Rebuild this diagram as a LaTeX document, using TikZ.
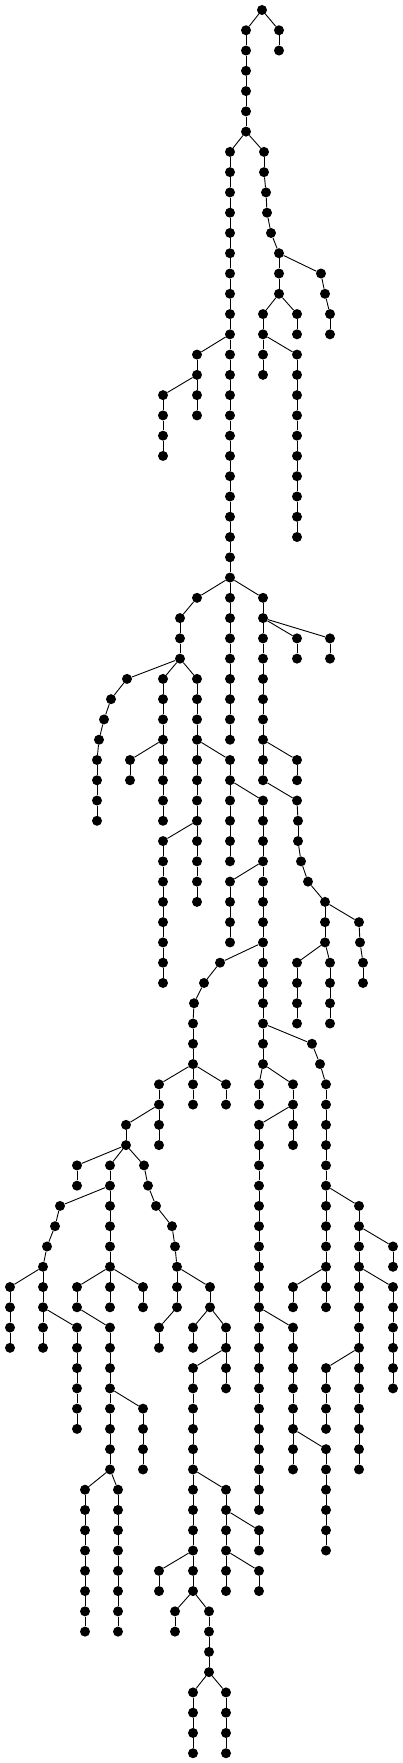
\documentclass[tikz,border=0pt]{standalone}
\usepackage{tikz}
\tikzset{vtx/.style={circle, fill=black, inner sep=0pt, minimum size=10pt},
  edge/.style={line width=0.9pt}}

\begin{document}
\begin{tikzpicture}[x=1pt, y=-1pt]
\useasboundingbox (0,0) rectangle (403,1763);

\foreach \x/\a/\b in {246/1/6, 279/1/2, 230/7/36, 264/7/8, 279/12/14, 263/15/18,
  297/15/16, 297/17/26, 330/15/16, 197/17/20, 163/19/22, 263/29/38, 180/30/32,
  297/31/32, 330/31/32, 163/33/40, 197/33/44, 130/37/38, 97/37/40, 230/37/42,
  297/37/38, 263/39/52, 298/40/41, 163/41/48, 230/43/46, 325/44/46, 297/47/50,
  330/47/50, 363/47/48, 193/50/54, 159/53/56, 226/53/54, 259/53/54, 293/53/56,
  326/53/64, 126/55/56, 259/55/74, 77/57/58, 110/57/64, 359/59/72, 393/61/62,
  43/62/66, 10/63/66, 77/63/64, 143/63/64, 177/62/64, 210/63/64, 293/63/64,
  393/63/68, 77/65/70, 110/65/72, 159/65/66, 193/65/66, 226/65/68, 293/65/72,
  193/67/78, 326/67/70, 143/69/72, 326/71/76, 85/73/80, 118/73/80, 226/73/78,
  259/75/76, 259/77/78, 159/77/78, 175/79/80, 209/79/82, 193/83/86, 226/83/86}{
  \foreach \k in {\a,...,\b}
    \node[vtx] (n\x-\k) at (\x,{10+20.27*\k}) {};
  \pgfmathtruncatemacro\c{\a+1}
  \foreach \k [evaluate=\k as \p using int(\k-1)] in {\c,...,\b}
    \draw[edge] (n\x-\p) -- (n\x-\k);
}

\foreach \x/\k in {262/0, 266/9, 267/10, 271/11, 321/13, 325/14, 197/29, 127/33,
  111/34, 104/35, 99/36, 297/39, 301/42, 308/43, 359/45, 360/46, 220/47, 204/48,
  194/49, 312/51, 320/52, 144/57, 148/58, 156/59, 172/60, 175/61, 60/59, 55/60,
  47/61}
  \node[vtx] (n\x-\k) at (\x,{10+20.27*\k}) {};

\foreach \u/\v in {262-0/246-1, 262-0/279-1, 246-6/230-7, 246-6/264-7,
  264-8/266-9, 266-9/267-10, 267-10/271-11, 271-11/279-12, 279-12/321-13,
  321-13/325-14, 325-14/330-15, 279-14/263-15, 279-14/297-15, 263-16/297-17,
  230-16/197-17, 197-18/163-19, 230-28/197-29, 230-28/263-29, 197-29/180-30,
  263-30/297-31, 263-30/330-31, 180-32/127-33, 180-32/163-33, 180-32/197-33,
  127-33/111-34, 111-34/104-35, 104-35/99-36, 99-36/97-37, 163-36/130-37,
  197-36/230-37, 263-36/297-37, 230-38/263-39, 263-38/297-39, 297-39/298-40,
  298-41/301-42, 301-42/308-43, 308-43/325-44, 197-40/163-41, 263-42/230-43,
  325-44/359-45, 359-45/360-46, 360-46/363-47, 325-46/297-47, 325-46/330-47,
  263-46/220-47, 220-47/204-48, 204-48/194-49, 194-49/193-50, 263-50/312-51,
  312-51/320-52, 320-52/326-53, 193-52/159-53, 193-52/226-53, 263-52/259-53,
  263-52/293-53, 159-54/126-55, 293-54/259-55, 126-56/77-57, 126-56/110-57,
  126-56/144-57, 144-57/148-58, 148-58/156-59, 156-59/172-60, 172-60/175-61,
  175-61/177-62, 110-58/60-59, 60-59/55-60, 55-60/47-61, 47-61/43-62,
  326-58/359-59, 359-60/393-61, 43-62/10-63, 110-62/77-63, 110-62/143-63,
  177-62/210-63, 326-62/293-63, 359-62/393-63, 43-64/77-65, 77-64/110-65,
  177-64/159-65, 210-64/193-65, 210-64/226-65, 259-64/293-65, 226-66/193-67,
  359-66/326-67, 110-68/143-69, 293-70/326-71, 110-72/85-73, 110-72/118-73,
  193-72/226-73, 226-74/259-75, 226-76/259-77, 193-76/159-77, 193-78/175-79,
  193-78/209-79, 209-82/193-83, 209-82/226-83}
  \draw[edge] (n\u) -- (n\v);

\end{tikzpicture}
\end{document}
